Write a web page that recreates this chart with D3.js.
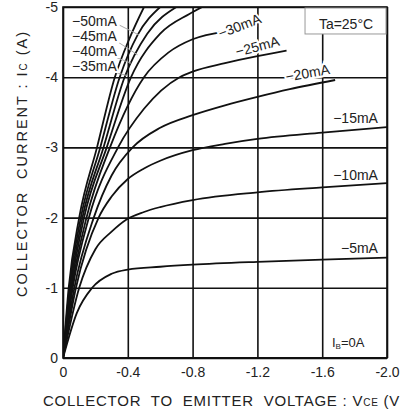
<!DOCTYPE html>
<html>
<head>
<meta charset="utf-8">
<script src="https://cdn.jsdelivr.net/npm/d3@7"></script>
<style>
body { margin: 0; background: #fff; }
svg { font-family: "Liberation Sans", Arial, sans-serif; }
</style>
</head>
<body>
<svg id="chart" width="400" height="418"></svg>
<script>
// axis ticks
const xTicks = [0, -0.4, -0.8, -1.2, -1.6, -2.0];
const xTickLabels = ["0", "-0.4", "-0.8", "-1.2", "-1.6", "-2.0"];
const yTicks = [0, -1, -2, -3, -4, -5];
const yTickLabels = ["0", "-1", "-2", "-3", "-4", "-5"];

// curves: [VCE (V), IC (A)]
const ib50 = [[0,0],[-0.035,-1],[-0.1,-2],[-0.21,-3],[-0.32,-4],[-0.41,-4.55],[-0.5,-5]];
const ib45 = [[0,0],[-0.04,-1],[-0.11,-2],[-0.23,-3],[-0.35,-4],[-0.46,-4.6],[-0.6,-5]];
const ib40 = [[0,0],[-0.045,-1],[-0.12,-2],[-0.25,-3],[-0.38,-4],[-0.52,-4.62],[-0.7,-5]];
const ib35 = [[0,0],[-0.05,-1],[-0.13,-2],[-0.27,-3],[-0.42,-4],[-0.6,-4.62],[-0.78,-4.9],[-0.86,-5]];
const ib30 = [[0,0],[-0.055,-1],[-0.145,-2],[-0.29,-3],[-0.5,-4],[-0.65,-4.35],[-0.8,-4.54],[-1.0,-4.65]];
const ib25 = [[0,0],[-0.06,-1],[-0.16,-2],[-0.34,-3],[-0.5,-3.55],[-0.72,-4],[-0.8,-4.08],[-1.0,-4.2],[-1.2,-4.3],[-1.38,-4.38]];
const ib20 = [[0,0],[-0.07,-1],[-0.19,-2],[-0.3,-2.6],[-0.43,-3],[-0.6,-3.28],[-0.8,-3.46],[-1.0,-3.6],[-1.2,-3.72],[-1.4,-3.83],[-1.68,-3.96]];
const ib15 = [[0,0],[-0.08,-1],[-0.22,-2],[-0.3,-2.3],[-0.4,-2.55],[-0.5,-2.7],[-0.6,-2.81],[-0.8,-2.96],[-1.0,-3.05],[-1.2,-3.12],[-1.6,-3.21],[-2.0,-3.29]];
const ib10 = [[0,0],[-0.1,-1],[-0.2,-1.55],[-0.3,-1.8],[-0.39,-1.97],[-0.5,-2.08],[-0.6,-2.15],[-0.8,-2.25],[-1.2,-2.36],[-1.6,-2.43],[-2.0,-2.49]];
const ib5 = [[0,0],[-0.085,-0.64],[-0.18,-1],[-0.3,-1.2],[-0.4,-1.26],[-0.6,-1.3],[-0.8,-1.33],[-1.2,-1.37],[-1.6,-1.4],[-2.0,-1.43]];
const ib0 = [[0,0],[-2.0,0]];

const curves = [ib50, ib45, ib40, ib35, ib30, ib25, ib20, ib15, ib10, ib5, ib0];

var svg = d3.select("#chart");
var pLeft = 63, pRight = 387, pTop = 7, pBottom = 358;

var x = d3.scaleLinear().domain([0, -2]).range([pLeft, pRight]);
var y = d3.scaleLinear().domain([0, -5]).range([pBottom, pTop]);

// grid
svg.append("g")
    .attr("transform", "translate(0," + pBottom + ")")
    .call(d3.axisBottom(x).tickValues(xTicks).tickSize(-(pBottom - pTop)).tickFormat(""))
    .call(g => g.select(".domain").remove())
    .selectAll("line").attr("stroke", "#111").attr("stroke-width", 1.6);

svg.append("g")
    .attr("transform", "translate(" + pLeft + ",0)")
    .call(d3.axisLeft(y).tickValues(yTicks).tickSize(-(pRight - pLeft)).tickFormat(""))
    .call(g => g.select(".domain").remove())
    .selectAll("line").attr("stroke", "#111").attr("stroke-width", 1.6);

svg.append("rect")
    .attr("x", pLeft).attr("y", pTop)
    .attr("width", pRight - pLeft).attr("height", pBottom - pTop)
    .attr("fill", "none").attr("stroke", "#111").attr("stroke-width", 1.6);

// tick labels
svg.append("g")
    .attr("transform", "translate(0," + pBottom + ")")
    .call(d3.axisBottom(x).tickValues(xTicks).tickSize(0).tickPadding(9)
        .tickFormat((d, i) => xTickLabels[i]))
    .call(g => g.select(".domain").remove())
    .selectAll("text").attr("font-size", 14).attr("font-family", "Liberation Sans, Arial").attr("fill", "#222");

svg.append("g")
    .attr("transform", "translate(" + (pLeft - 5) + ",0)")
    .call(d3.axisLeft(y).tickValues(yTicks).tickSize(0).tickPadding(0)
        .tickFormat((d, i) => yTickLabels[i]))
    .call(g => g.select(".domain").remove())
    .selectAll("text").attr("font-size", 14).attr("font-family", "Liberation Sans, Arial").attr("fill", "#222");

// curves
svg.append("clipPath").attr("id", "plotclip")
    .append("rect").attr("x", pLeft).attr("y", pTop)
    .attr("width", pRight - pLeft).attr("height", pBottom - pTop);

var line = d3.line()
    .x(d => x(d[0]))
    .y(d => y(d[1]))
    .curve(d3.curveMonotoneX);

svg.append("g").attr("clip-path", "url(#plotclip)")
    .selectAll("path")
    .data(curves)
    .enter()
    .append("path")
    .attr("d", line)
    .attr("fill", "none")
    .attr("stroke", "#111")
    .attr("stroke-width", 1.8);

// leader lines for the crowded labels
var leaders = [
    [[-0.35, -4.74], [-0.47, -4.6]],
    [[-0.34, -4.5], [-0.46, -4.32]],
    [[-0.33, -4.28], [-0.42, -4.2]],
    [[-0.32, -4.07], [-0.4, -4.02]]
];
svg.append("g").selectAll("line")
    .data(leaders)
    .enter()
    .append("line")
    .attr("x1", d => x(d[0][0])).attr("y1", d => y(d[0][1]))
    .attr("x2", d => x(d[1][0])).attr("y2", d => y(d[1][1]))
    .attr("stroke", "#aaa").attr("stroke-width", 1);

// curve labels: [text, V, I, anchor, angle]
var labels = [
    ["−50mA", -0.056, -4.73, "start", 0],
    ["−45mA", -0.056, -4.52, "start", 0],
    ["−40mA", -0.056, -4.30, "start", 0],
    ["−35mA", -0.056, -4.09, "start", 0],
    ["−30mA", -1.09, -4.73, "middle", -21],
    ["−25mA", -1.20, -4.44, "middle", -15],
    ["−20mA", -1.51, -4.06, "middle", -10],
    ["−15mA", -1.944, -3.35, "end", 0],
    ["−10mA", -1.944, -2.54, "end", 0],
    ["−5mA", -1.944, -1.50, "end", 0]
];
svg.append("g").selectAll("text")
    .data(labels)
    .enter()
    .append("text")
    .attr("transform", d => "translate(" + x(d[1]) + "," + y(d[2]) + ") rotate(" + d[4] + ")")
    .attr("text-anchor", d => d[3])
    .attr("dy", d => d[4] ? "0.35em" : 0)
    .attr("font-size", 14)
    .attr("fill", "#222")
    .attr("stroke", "#fff").attr("stroke-width", 4)
    .attr("paint-order", "stroke")
    .text(d => d[0]);

// Ta box
svg.append("rect")
    .attr("x", x(-1.494)).attr("y", y(-5) + 1)
    .attr("width", x(-2) - x(-1.494) - 1).attr("height", y(-4.63) - y(-5))
    .attr("fill", "#fff").attr("stroke", "#999").attr("stroke-width", 1);
svg.append("text")
    .attr("x", (x(-1.494) + x(-2)) / 2).attr("y", y(-4.69))
    .attr("text-anchor", "middle")
    .attr("font-size", 14).attr("fill", "#222")
    .text("Ta=25°C");

// IB=0A
var ib0Label = svg.append("text")
    .attr("x", x(-1.66)).attr("y", y(-0.15))
    .attr("font-size", 13).attr("fill", "#222");
ib0Label.append("tspan").text("I");
ib0Label.append("tspan").attr("font-size", 8).attr("dy", 2).text("B");
ib0Label.append("tspan").attr("dy", -2).text("=0A");

// axis titles
var xt = svg.append("text")
    .attr("x", 43).attr("y", 406)
    .attr("font-size", 15).attr("fill", "#222")
    .style("white-space", "pre")
    .attr("textLength", 362).attr("lengthAdjust", "spacing");
xt.append("tspan").text("COLLECTOR  TO  EMITTER  VOLTAGE : V");
xt.append("tspan").attr("font-size", 10).text("CE");
xt.append("tspan").text(" (V)");

var yt = svg.append("text")
    .attr("transform", "translate(27,297) rotate(-90)")
    .attr("font-size", 14.5).attr("fill", "#222")
    .style("white-space", "pre")
    .attr("textLength", 265).attr("lengthAdjust", "spacing");
yt.append("tspan").text("COLLECTOR  CURRENT : I");
yt.append("tspan").attr("font-size", 10).text("C");
yt.append("tspan").text(" (A)");
</script>
</body>
</html>
